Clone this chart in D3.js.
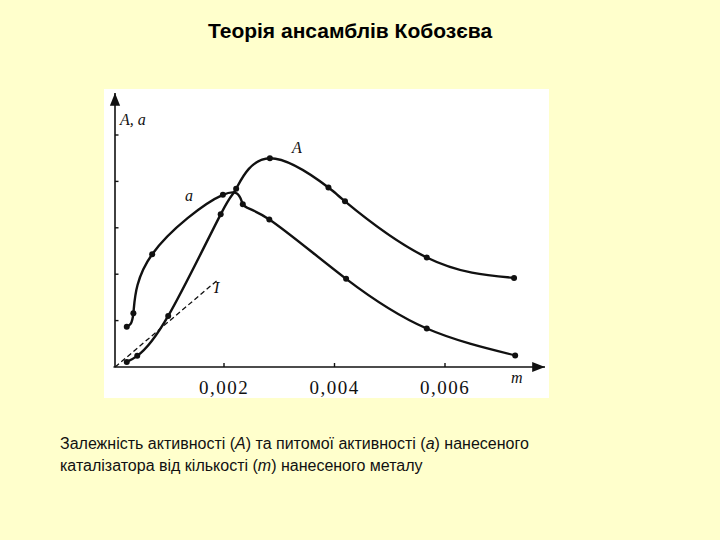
<!DOCTYPE html>
<html><head><meta charset="utf-8">
<script src="https://cdn.jsdelivr.net/npm/d3@7"></script>
<style>body{margin:0;background:#ffffcc}</style>
</head><body>
<svg id="chart" width="720" height="540"></svg>
<script>
// m in units of 0.001
const mA = [0.24, 0.43, 0.99, 1.94, 2.22, 2.83, 3.89, 4.19, 5.67, 7.25];
const valA = [0.11, 0.24, 1.10, 3.29, 3.84, 4.50, 3.87, 3.57, 2.36, 1.92];
const ma = [0.24, 0.36, 0.70, 1.98, 2.34, 2.82, 4.21, 5.67, 7.27];
const vala = [0.87, 1.16, 2.43, 3.71, 3.51, 3.18, 1.90, 0.83, 0.25];
const lineI = [[0.03, 0], [1.90, 1.89]];
const xTicks = [2, 4, 6];
const xTickLabels = ["0,002", "0,004", "0,006"];
const yTicks = [1, 2, 3, 4, 5];

const svg = d3.select('#chart');
svg.append('text').attr('x', 350).attr('y', 38).attr('text-anchor', 'middle')
    .attr('font-family', 'Liberation Sans, Arial').attr('font-weight', 'bold').attr('font-size', 21)
    .text('Теорія ансамблів Кобозєва');

svg.append('rect').attr('x', 104).attr('y', 89).attr('width', 445).attr('height', 309).attr('fill', 'white');

const x = d3.scaleLinear().domain([0, 2]).range([113.5, 224]);
const y = d3.scaleLinear().domain([0, 1]).range([367, 320.6]);
const g = svg.append('g').attr('stroke', '#111').attr('fill', 'none');

// axes
svg.append('defs').append('marker').attr('id', 'arr').attr('viewBox', '0 0 10 10')
    .attr('refX', 10).attr('refY', 5).attr('markerWidth', 8).attr('markerHeight', 8)
    .attr('orient', 'auto').append('path').attr('d', 'M0,1 L10,5 L0,9 Z').attr('fill', '#111');
g.append('line').attr('x1', x(0) + 1.5).attr('y1', y(0)).attr('x2', x(0) + 1.5).attr('y2', 93)
    .attr('stroke-width', 1.6).attr('marker-end', 'url(#arr)');
g.append('line').attr('x1', x(0)).attr('y1', y(0)).attr('x2', 545).attr('y2', y(0))
    .attr('stroke-width', 1.6).attr('marker-end', 'url(#arr)');
yTicks.forEach(t => g.append('line').attr('x1', x(0) + 1.5).attr('x2', x(0) + 5)
    .attr('y1', y(t)).attr('y2', y(t)).attr('stroke-width', 1.4));
xTicks.forEach((t, i) => {
    g.append('line').attr('x1', x(t)).attr('x2', x(t)).attr('y1', y(0)).attr('y2', y(0) - 4).attr('stroke-width', 1.4);
    svg.append('text').attr('x', x(t)).attr('y', 394).attr('text-anchor', 'middle')
        .attr('font-family', 'Liberation Serif, Times New Roman').attr('font-size', 19).attr('fill', '#111')
        .attr('letter-spacing', 1.5).text(xTickLabels[i]);
});

const line = d3.line().x(d => x(d[0])).y(d => y(d[1])).curve(d3.curveNatural);
const dA = mA.map((m, i) => [m, valA[i]]);
const da = ma.map((m, i) => [m, vala[i]]);
g.append('path').attr('d', line(dA)).attr('stroke-width', 2.4);
g.append('path').attr('d', line(da)).attr('stroke-width', 2.4);
g.append('path').attr('d', d3.line().x(d => x(d[0])).y(d => y(d[1]))(lineI))
    .attr('stroke-width', 1.3).attr('stroke-dasharray', '5,3');
svg.selectAll('circle.p').data(dA.concat(da)).enter().append('circle')
    .attr('cx', d => x(d[0])).attr('cy', d => y(d[1])).attr('r', 3).attr('fill', '#111');

const lab = (t, px, py, size) => svg.append('text').attr('x', px).attr('y', py)
    .attr('font-family', 'Liberation Serif, Times New Roman').attr('font-style', 'italic')
    .attr('font-size', size).attr('fill', '#111').text(t);
lab('A, a', 120, 125, 16);
lab('A', 292, 153, 16);
lab('a', 185, 201, 16);
lab('I', 214, 293, 16);
lab('m', 511, 383, 16);

const cap = svg.append('text').attr('font-family', 'Liberation Sans, Arial').attr('font-size', 16).attr('fill', '#111');
const l1 = cap.append('tspan').attr('x', 60).attr('y', 449);
l1.append('tspan').text('Залежність активності (');
l1.append('tspan').attr('font-style', 'italic').text('А');
l1.append('tspan').text(') та питомої активності (');
l1.append('tspan').attr('font-style', 'italic').text('а');
l1.append('tspan').text(') нанесеного');
const l2 = cap.append('tspan').attr('x', 60).attr('y', 471);
l2.append('tspan').text('каталізатора від кількості (');
l2.append('tspan').attr('font-style', 'italic').text('m');
l2.append('tspan').text(') нанесеного металу');
</script>
</body></html>
